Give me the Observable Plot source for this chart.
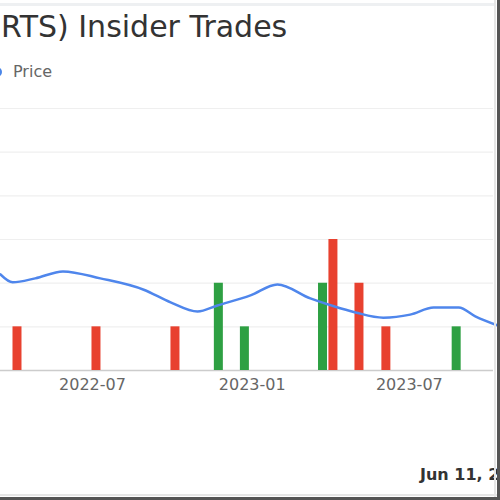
<!DOCTYPE html>
<html>
<head>
<meta charset="utf-8">
<script src="https://cdn.jsdelivr.net/npm/d3@7"></script>
<script src="https://cdn.jsdelivr.net/npm/@observablehq/plot@0.6"></script>
<style>
  body { margin: 0; background: #fff; }
  #wrap { position: relative; width: 500px; height: 500px; overflow: hidden; background: #fff; font-family: "DejaVu Sans", sans-serif; }
  #chart { position: absolute; left: 0; top: 0; }
  .abs { position: absolute; white-space: nowrap; }
  #title { left: 1px; top: 12px; font-size: 30px; line-height: 30px; color: #333; }
  #legend { left: 13px; top: 64px; font-size: 16px; line-height: 16px; color: #666; }
  #dot { left: -8px; top: 67px; width: 10px; height: 10px; border-radius: 50%; background: #4a86e8; }
  #date { left: 420px; top: 467px; font-size: 16px; line-height: 16px; color: #333; font-weight: bold; }
  #topline { left: 0; top: 3px; width: 494px; height: 3px; background: #eef0f2; }
  #bline { left: 0; top: 494px; width: 497px; height: 2px; background: #e6e6e6; }
  #rline { left: 494px; top: 0; width: 2px; height: 497px; background: #e6e6e6; }
  #rborder { left: 497px; top: 0; width: 3px; height: 500px; background: #555; }
  #bborder { left: 0; top: 497px; width: 500px; height: 3px; background: #555; }
</style>
</head>
<body>
<div id="wrap">
  <div id="chart"></div>
  <div id="topline" class="abs"></div>
  <div id="title" class="abs">RTS) Insider Trades</div>
  <div id="dot" class="abs"></div>
  <div id="legend" class="abs">Price</div>
  <div id="date" class="abs">Jun 11, 2024</div>
  <div id="bline" class="abs"></div>
  <div id="rline" class="abs"></div>
  <div id="rborder" class="abs"></div>
  <div id="bborder" class="abs"></div>
</div>
<script>
// Insider trades: date, number of trades, type
const tradeDates  = ["2022-04-05","2022-07-05","2022-10-04","2022-11-23","2022-12-23","2023-03-23","2023-04-04","2023-05-04","2023-06-04","2023-08-24"];
const tradeCounts = [1, 1, 1, 2, 1, 2, 3, 2, 1, 1];
const tradeTypes  = ["Sell","Sell","Sell","Buy","Buy","Buy","Sell","Sell","Sell","Buy"];

// Price line (in chart units)
const priceDates  = ["2022-03-17","2022-03-31","2022-04-26","2022-05-28","2022-07-10","2022-08-29","2022-09-29","2022-10-30","2022-11-22","2022-12-30","2023-01-30","2023-03-09","2023-04-05","2023-04-30","2023-06-01","2023-07-02","2023-07-29","2023-08-27","2023-09-15","2023-10-11"];
const priceValues = [2.20, 2.02, 2.11, 2.27, 2.11, 1.85, 1.56, 1.35, 1.49, 1.72, 1.97, 1.65, 1.47, 1.33, 1.21, 1.28, 1.44, 1.44, 1.24, 1.03];

const xTickLabels = ["2022-07-01","2023-01-01","2023-07-01"];
const yTickValues = [0, 1, 2, 3, 4, 5, 6];
const xDomain = ["2022-03-17","2023-10-06"];

const trades = tradeDates.map((d, i) => ({date: new Date(d), count: tradeCounts[i], type: tradeTypes[i]}));
const price = priceDates.map((d, i) => ({date: new Date(d), value: priceValues[i]}));

const chart = Plot.plot({
  width: 500,
  height: 500,
  marginTop: 108,
  marginBottom: 130,
  marginLeft: 0,
  marginRight: 7,
  style: {fontFamily: "DejaVu Sans, sans-serif", fontSize: "16px", color: "#666", background: "transparent", overflow: "visible"},
  x: {type: "utc", domain: xDomain.map(d => new Date(d))},
  y: {domain: [0, 6]},
  marks: [
    Plot.ruleY(yTickValues.slice(1), {stroke: "#efefef", strokeWidth: 1.2}),
    Plot.ruleY([0], {stroke: "#cccccc", strokeWidth: 1.5}),
    Plot.ruleX(trades.filter(d => d.type === "Sell"), {x: "date", y1: 0, y2: "count", stroke: "#e8412f", strokeWidth: 9}),
    Plot.ruleX(trades.filter(d => d.type === "Buy"), {x: "date", y1: 0, y2: "count", stroke: "#2ea043", strokeWidth: 9}),
    Plot.line(price, {x: "date", y: "value", stroke: "#4f86ec", strokeWidth: 2.5, curve: "monotone-x", clip: false}),
    Plot.axisX({ticks: xTickLabels.map(d => new Date(d)), tickFormat: d3.utcFormat("%Y-%m"), tickSize: 0, tickPadding: 8, label: null, fill: "#666", fontSize: 16}),
    Plot.axisY({ticks: [], label: null, tickSize: 0})
  ]
});
document.getElementById("chart").appendChild(chart);
</script>
</body>
</html>
